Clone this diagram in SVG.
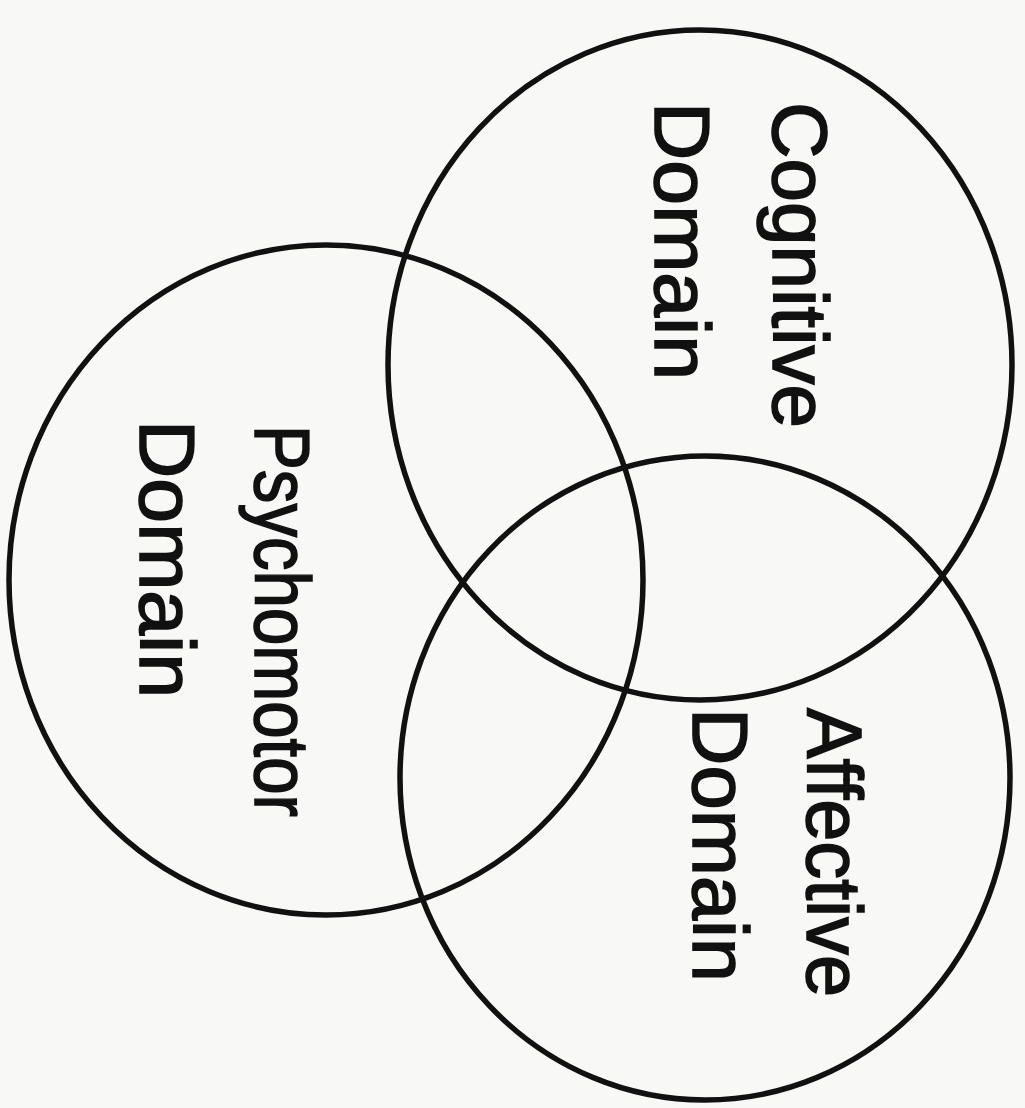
<svg xmlns="http://www.w3.org/2000/svg" width="1025" height="1108" viewBox="0 0 1025 1108">
<style>
.c{fill:none;stroke:#111;stroke-width:5.5}
.t{font-family:"Liberation Sans",Arial,sans-serif;font-size:77px;fill:#111;stroke:#111;stroke-width:1.6}
</style>
<rect width="1025" height="1108" fill="#f8f8f6"/>
<g id="cognitive">
<ellipse class="c" cx="700" cy="365" rx="312" ry="335"/>
<text class="t" transform="translate(773,102) rotate(90)" textLength="326" lengthAdjust="spacingAndGlyphs">Cognitive</text>
<text class="t" transform="translate(655,102) rotate(90)" textLength="278" lengthAdjust="spacingAndGlyphs">Domain</text>
</g>
<g id="psychomotor">
<ellipse class="c" cx="326" cy="580" rx="317" ry="335"/>
<text class="t" transform="translate(255,425) rotate(90)" textLength="392" lengthAdjust="spacingAndGlyphs">Psychomotor</text>
<text class="t" transform="translate(140,420) rotate(90)" textLength="278" lengthAdjust="spacingAndGlyphs">Domain</text>
</g>
<g id="affective">
<ellipse class="c" cx="705" cy="778" rx="305" ry="322"/>
<text class="t" transform="translate(807,708) rotate(90)" textLength="289" lengthAdjust="spacingAndGlyphs">Affective</text>
<text class="t" transform="translate(693,708) rotate(90)" textLength="274" lengthAdjust="spacingAndGlyphs">Domain</text>
</g>
<g id="connectors"></g>
</svg>
